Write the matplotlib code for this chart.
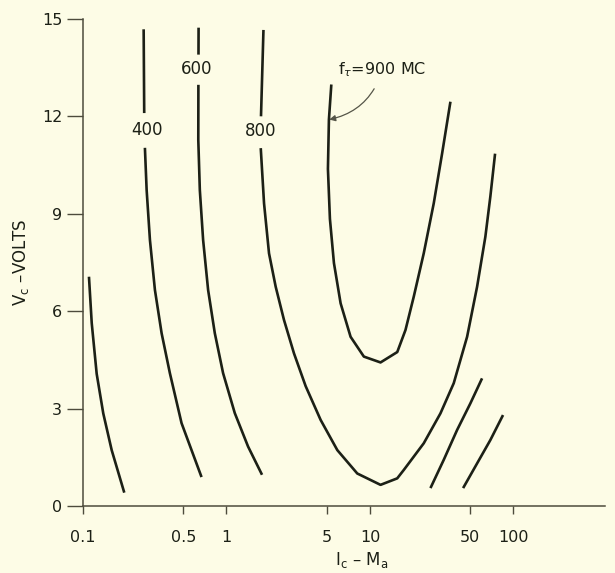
import numpy as np
import matplotlib
matplotlib.use('Agg')
import matplotlib.pyplot as plt

# Eixos: corrente de coletor (mA, escala log) e tensão (V)
x_ticks = [0.1, 0.5, 1, 5, 10, 50, 100]
x_tick_labels = ['0.1', '0.5', '1', '5', '10', '50', '100']
y_ticks = [0, 3, 6, 9, 12, 15]

# curva mais à esquerda
ic_a = [0.110, 0.115, 0.1245, 0.1384, 0.1584, 0.1939]
vc_a = [7.06, 5.63, 4.07, 2.85, 1.72, 0.41]

# 400 MC (trecho acima e abaixo do rótulo)
ic_400_sup = [0.2646, 0.267]
vc_400_sup = [14.68, 12.1]
ic_400_inf = [0.270, 0.2776, 0.2927, 0.3171, 0.353, 0.4031, 0.4862, 0.6699]
vc_400_inf = [11.03, 9.73, 8.19, 6.65, 5.32, 4.09, 2.55, 0.89]

# 600 MC
ic_600_sup = [0.639, 0.638]
vc_600_sup = [14.73, 13.9]
ic_600_inf = [0.637, 0.636, 0.6519, 0.6873, 0.7447, 0.8291, 0.9469, 1.1423, 1.4139, 1.769]
vc_600_inf = [12.97, 11.27, 9.73, 8.19, 6.65, 5.32, 4.09, 2.86, 1.83, 0.96]

# 800 MC
ic_800_sup = [1.81, 1.74]
vc_800_sup = [14.66, 12.0]
ic_800_inf = [1.733, 1.827, 1.979, 2.203, 2.516, 2.954, 3.563, 4.531, 5.922, 8.158,
              11.85, 15.49, 17.22, 23.71, 30.99, 38.37, 47.55, 55.81, 63.74, 69.06, 74.5]
vc_800_inf = [11.02, 9.32, 7.78, 6.75, 5.73, 4.70, 3.69, 2.65, 1.72, 1.00,
              0.65, 0.85, 1.11, 1.93, 2.85, 3.78, 5.21, 6.75, 8.29, 9.53, 10.85]

# 900 MC
ic_900 = [5.38, 5.176, 5.094, 5.26, 5.61, 6.245, 7.328, 9.07, 11.85, 15.5,
          17.69, 20.21, 23.71, 27.84, 31.85, 36.39]
vc_900 = [12.98, 11.90, 10.38, 8.84, 7.48, 6.24, 5.21, 4.60, 4.42, 4.74,
          5.42, 6.45, 7.78, 9.32, 10.86, 12.45]

# curvas curtas à direita
ic_f = [60.46, 50.12, 40.5, 32.68, 26.41]
vc_f = [3.93, 3.16, 2.34, 1.42, 0.55]
ic_g = [84.65, 69.06, 55.81, 44.6]
vc_g = [2.80, 2.03, 1.31, 0.55]

fundo = '#fdfce6'
cor_linha = '#1c2016'
cor_eixo = '#4d4b3c'

fig = plt.figure(figsize=(6.15, 5.73), dpi=100, facecolor=fundo)
ax = fig.add_axes([0.135, 0.117, 0.849, 0.85])
ax.set_facecolor(fundo)

curvas = [(ic_a, vc_a), (ic_400_sup, vc_400_sup), (ic_400_inf, vc_400_inf),
          (ic_600_sup, vc_600_sup), (ic_600_inf, vc_600_inf),
          (ic_800_sup, vc_800_sup), (ic_800_inf, vc_800_inf),
          (ic_900, vc_900), (ic_f, vc_f), (ic_g, vc_g)]
for ic, vc in curvas:
    ax.plot(ic, vc, color=cor_linha, lw=1.9, solid_capstyle='butt',
            solid_joinstyle='round')

ax.text(0.277, 11.58, '400', ha='center', va='center', fontsize=12, color=cor_linha)
ax.text(0.621, 13.46, '600', ha='center', va='center', fontsize=12, color=cor_linha)
ax.text(1.733, 11.56, '800', ha='center', va='center', fontsize=12, color=cor_linha)

ax.annotate(r'f$_\tau$=900 MC', xy=(5.2, 11.9), xytext=(12.2, 13.45),
            ha='center', va='center', fontsize=11.5, color=cor_linha,
            arrowprops=dict(arrowstyle='-|>', color='#555548', lw=0.9,
                            shrinkA=6, shrinkB=0, mutation_scale=9,
                            connectionstyle='arc3,rad=-0.3'))

ax.set_xscale('log')
ax.set_xlim(0.1, 436)
ax.set_ylim(0, 15)
ax.set_xticks(x_ticks)
ax.set_xticklabels(x_tick_labels)
ax.minorticks_off()
ax.set_yticks(y_ticks)

for lado in ['top', 'right']:
    ax.spines[lado].set_visible(False)
for lado in ['left', 'bottom']:
    ax.spines[lado].set_color(cor_eixo)
    ax.spines[lado].set_linewidth(1.1)

ax.tick_params(axis='y', direction='out', length=11.5, width=1, pad=3.5,
               labelsize=11.5, colors=cor_eixo, labelcolor=cor_linha)
ax.tick_params(axis='x', direction='out', length=6, width=1, pad=11,
               labelsize=11.5, colors=cor_eixo, labelcolor=cor_linha)

ax.set_xlabel(r'I$_\mathregular{c}$ – M$_\mathregular{a}$', fontsize=12, color=cor_linha)
ax.xaxis.set_label_coords(0.534, -0.09)
ax.set_ylabel(r'V$_\mathregular{c}$ –VOLTS', fontsize=12, color=cor_linha)
ax.yaxis.set_label_coords(-0.10, 0.5)

fig.savefig('out.png', dpi=100, facecolor=fundo)
